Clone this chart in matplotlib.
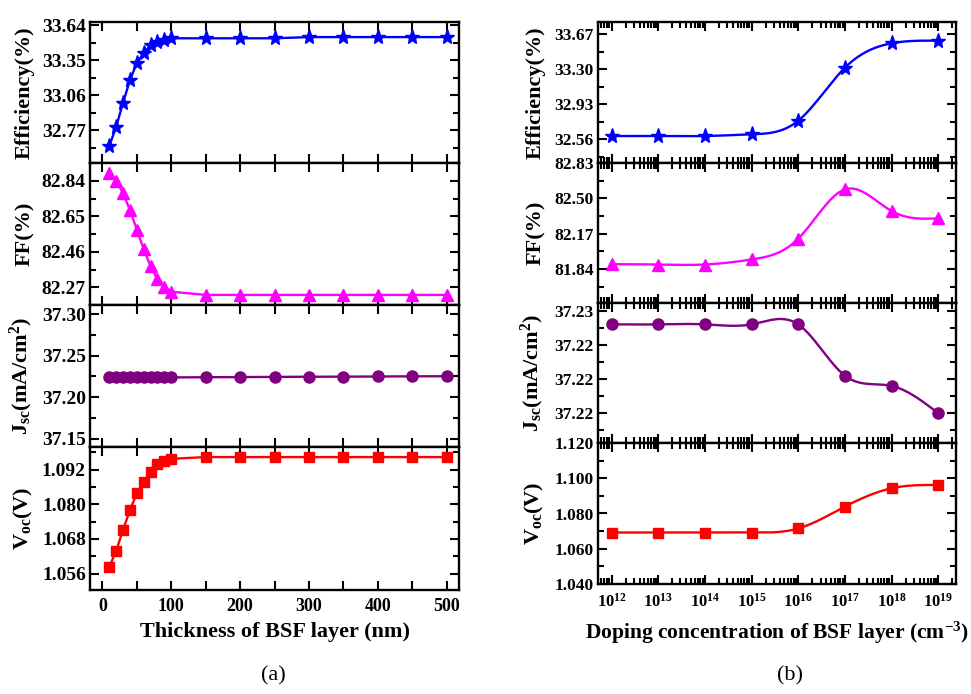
import numpy as np
import matplotlib
matplotlib.use("Agg")
import matplotlib.pyplot as plt
from matplotlib.ticker import FixedLocator, FormatStrFormatter, MultipleLocator, LogLocator, NullFormatter

plt.rcParams['font.family'] = ['Liberation Serif', 'DejaVu Serif']
plt.rcParams['font.weight'] = 'bold'
plt.rcParams['mathtext.fontset'] = 'custom'
plt.rcParams['mathtext.rm'] = 'Liberation Serif:bold'
plt.rcParams['mathtext.it'] = 'Liberation Serif:bold:italic'
plt.rcParams['mathtext.bf'] = 'Liberation Serif:bold'

# ---------------- data: (a) thickness ----------------
thickness = [10, 20, 30, 40, 50, 60, 70, 80, 90, 100, 150, 200, 250, 300, 350, 400, 450, 500]
eff_a = [32.637, 32.797, 32.996, 33.184, 33.325, 33.408, 33.472, 33.500, 33.520, 33.530,
         33.530, 33.530, 33.530, 33.540, 33.540, 33.540, 33.540, 33.540]
ff_a = [82.883, 82.840, 82.773, 82.683, 82.579, 82.473, 82.383, 82.313, 82.273, 82.246,
        82.229, 82.229, 82.229, 82.229, 82.229, 82.229, 82.229, 82.229]
jsc_a = [37.2238] * 10 + [37.2240, 37.2242, 37.2244, 37.2246, 37.2247, 37.2249, 37.2251, 37.2252]
voc_a = [1.0583, 1.0638, 1.0712, 1.0780, 1.0838, 1.0878, 1.0911, 1.0941, 1.0952, 1.0958,
         1.0964, 1.0964, 1.0964, 1.0964, 1.0964, 1.0964, 1.0964, 1.0964]

# ---------------- data: (b) doping ----------------
doping_exp = [12, 13, 14, 15, 16, 17, 18, 19]
eff_b = [32.595, 32.595, 32.595, 32.613, 32.757, 33.317, 33.575, 33.602]
ff_b = [81.886, 81.883, 81.883, 81.930, 82.124, 82.584, 82.382, 82.314]
jsc_b = [37.2252, 37.2252, 37.2252, 37.2252, 37.2252, 37.2222, 37.2216, 37.2200]
voc_b = [1.0692, 1.0692, 1.0692, 1.0692, 1.0715, 1.0839, 1.0943, 1.0962]

xlabel_a = "Thickness of BSF layer (nm)"
xlabel_b = r"Doping concentration of BSF layer (cm$^{-3}$)"
ylabels = ["Efficiency(%)", "FF(%)", r"J$_{\mathrm{sc}}$(mA/cm$^{\mathrm{2}}$)", r"V$_{\mathrm{oc}}$(V)"]

yticks_a = [[32.77, 33.06, 33.35, 33.64], [82.27, 82.46, 82.65, 82.84],
            [37.15, 37.20, 37.25, 37.30], [1.056, 1.068, 1.080, 1.092]]
ylims_a = [(32.497, 33.665), (82.175, 82.935), (37.140, 37.311), (1.0503, 1.0999)]
yfmt_a = ['%.2f', '%.2f', '%.2f', '%.3f']

yticks_b = [[32.56, 32.93, 33.30, 33.67], [81.84, 82.17, 82.50, 82.83],
            [37.220, 37.222, 37.224, 37.226], [1.040, 1.060, 1.080, 1.100, 1.120]]
ylims_b = [(32.31, 33.80), (81.524, 82.83), (37.21826, 37.22645), (1.040, 1.120)]
yfmt_b = ['%.2f', '%.2f', '%.2f', '%.3f']

colors = ['#0000FF', '#FF00FF', '#800080', '#FF0000']
markers = ['*', '^', 'o', 's']
msizes = [11, 8.5, 8, 7]


def natural_spline(x, y, xs):
    x = np.asarray(x, float); y = np.asarray(y, float)
    n = len(x)
    h = np.diff(x)
    A = np.zeros((n, n)); b = np.zeros(n)
    A[0, 0] = 1; A[-1, -1] = 1
    for i in range(1, n - 1):
        A[i, i - 1] = h[i - 1]
        A[i, i] = 2 * (h[i - 1] + h[i])
        A[i, i + 1] = h[i]
        b[i] = 6 * ((y[i + 1] - y[i]) / h[i] - (y[i] - y[i - 1]) / h[i - 1])
    M = np.linalg.solve(A, b)
    idx = np.clip(np.searchsorted(x, xs) - 1, 0, n - 2)
    x0 = x[idx]; x1 = x[idx + 1]; hh = x1 - x0
    t0 = x1 - xs; t1 = xs - x0
    return (M[idx] * t0 ** 3 / (6 * hh) + M[idx + 1] * t1 ** 3 / (6 * hh)
            + (y[idx] / hh - M[idx] * hh / 6) * t0 + (y[idx + 1] / hh - M[idx + 1] * hh / 6) * t1)


W, H = 971, 694
fig = plt.figure(figsize=(W / 100, H / 100), dpi=100)


def px_axes(x0, x1, y0, y1):
    return fig.add_axes([x0 / W, 1 - y1 / H, (x1 - x0) / W, (y1 - y0) / H])


def style(ax, ylabsize, xlabsize):
    for s in ax.spines.values():
        s.set_linewidth(1.7)
    ax.tick_params(which='both', direction='in', top=True, right=True, bottom=True, left=True,
                   width=1.5)
    ax.tick_params(axis='y', labelsize=ylabsize, pad=3)
    ax.tick_params(axis='x', labelsize=xlabsize, pad=6)
    ax.tick_params(which='major', length=6.5)
    ax.tick_params(which='minor', length=4)


bounds_a = [(22, 163), (163, 305), (305, 447), (447, 590)]
bounds_b = [(22, 163), (163, 303), (303, 443), (443, 584)]
series_a = [eff_a, ff_a, jsc_a, voc_a]
series_b = [eff_b, ff_b, jsc_b, voc_b]

# ---------- panel (a) ----------
for i in range(4):
    ax = px_axes(90, 459, *bounds_a[i])
    style(ax, 14, 13)
    ax.tick_params(axis='x', which='minor', length=6.5)
    ax.plot(thickness, series_a[i], color=colors[i], marker=markers[i], ms=msizes[i], lw=1.7)
    ax.set_xlim(-18, 518)
    ax.xaxis.set_major_locator(MultipleLocator(100))
    ax.xaxis.set_minor_locator(MultipleLocator(50))
    ax.set_ylim(*ylims_a[i])
    t = yticks_a[i]
    step = t[1] - t[0]
    ax.yaxis.set_major_locator(FixedLocator(t))
    ax.yaxis.set_minor_locator(FixedLocator([t[0] - step / 2] + [v + step / 2 for v in t]))
    ax.yaxis.set_major_formatter(FormatStrFormatter(yfmt_a[i]))
    ax.set_ylabel(ylabels[i], fontsize=16, fontweight='bold')
    ax.yaxis.set_label_coords(-0.150, 0.5)
    if i < 3:
        ax.set_xticklabels([])
    else:
        ax.set_xlabel(xlabel_a, fontsize=16, fontweight='bold', labelpad=5)

# ---------- panel (b) ----------
xd = [10.0 ** e for e in doping_exp]
xs_exp = np.linspace(doping_exp[0], doping_exp[-1], 400)
for i in range(4):
    ax = px_axes(598, 956, *bounds_b[i])
    style(ax, 12.5, 12)
    ax.set_xscale('log')
    ys = natural_spline(doping_exp, series_b[i], xs_exp)
    ax.plot(10.0 ** xs_exp, ys, color=colors[i], lw=1.7)
    ax.plot(xd, series_b[i], color=colors[i], marker=markers[i], ms=msizes[i], lw=0)
    ax.set_xlim(10 ** 11.71, 10 ** 19.38)
    ax.xaxis.set_major_locator(FixedLocator(xd))
    ax.xaxis.set_minor_locator(LogLocator(base=10, subs=np.arange(2, 10), numticks=30))
    ax.xaxis.set_minor_formatter(NullFormatter())
    ax.set_ylim(*ylims_b[i])
    t = yticks_b[i]
    step = t[1] - t[0]
    ax.yaxis.set_major_locator(FixedLocator(t))
    ax.yaxis.set_minor_locator(FixedLocator([t[0] - step / 2] + [v + step / 2 for v in t]))
    ax.yaxis.set_major_formatter(FormatStrFormatter(yfmt_b[i]))
    ax.set_ylabel(ylabels[i], fontsize=16, fontweight='bold')
    ax.yaxis.set_label_coords(-0.145, 0.5)
    if i < 3:
        ax.set_xticklabels([])
    else:
        ax.set_xticks(xd)
        ax.set_xticklabels([r'$10^{%d}$' % e for e in doping_exp])
        ax.set_xlabel(xlabel_b, fontsize=15.5, fontweight='bold', labelpad=7)

fig.text(273 / W, 1 - 676 / H, "(a)", ha='center', va='center', fontsize=16, fontweight='normal')
fig.text(790 / W, 1 - 676 / H, "(b)", ha='center', va='center', fontsize=16, fontweight='normal')

fig.savefig("out.png", dpi=100)
